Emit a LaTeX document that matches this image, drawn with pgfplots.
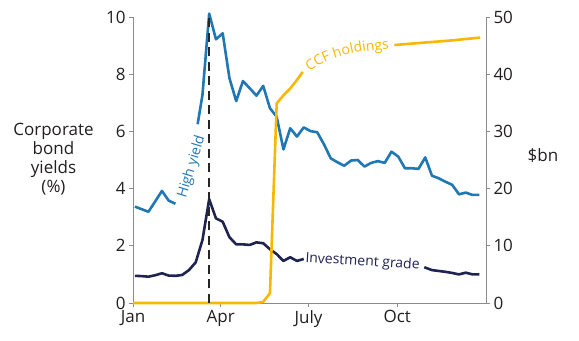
\documentclass[border=0pt]{standalone}
\usepackage{fontspec}
\setmainfont{Open Sans}
\usepackage{pgfplots}
\usetikzlibrary{decorations.text}
\pgfplotsset{compat=1.18}
\definecolor{hy}{HTML}{1F77B4}
\definecolor{ig}{HTML}{1F2352}
\definecolor{ccf}{HTML}{F8B700}
\definecolor{axgray}{HTML}{8C8C8C}
\definecolor{txt}{HTML}{231F20}
\newcommand\cf{\fontsize{17bp}{19bp}\selectfont}
\newcommand\lf{\fontsize{14bp}{16bp}\selectfont}
\begin{document}
\begin{tikzpicture}
\pgfplotsset{
 base/.style={width=353bp,height=286bp,scale only axis, xmin=0,xmax=366, clip=false,
   axis line style={axgray, line width=0.9bp}, tick style={axgray, line width=0.9bp},
   tick align=outside, major tick length=4bp,
   ticklabel style={font=\cf, text=txt}, /pgf/number format/assume math mode=true,
 }}
\begin{axis}[base, name=ax, ymin=0,ymax=10, axis y line*=left, axis x line*=bottom,
  xtick={0,91,182,274}, xticklabels={Jan,Apr,July,Oct}, ytick={0,2,...,10}]
\addplot[hy, line width=2.6bp, line join=round] coordinates {
(2,3.37)(9,3.28)(16,3.19)(23,3.55)(30,3.92)(37,3.58)(44,3.47)};
\addplot[hy, line width=2.6bp, line join=round] coordinates {
(67,6.25)(72,7.27)(79,10.12)(86,9.22)(93,9.43)(100,7.86)(107,7.06)(114,7.76)(121,7.51)
(128,7.25)(135,7.59)(142,6.81)(149,6.51)(156,5.37)(163,6.11)(170,5.82)(177,6.14)(184,6.01)
(191,5.97)(198,5.55)(205,5.06)(212,4.92)(219,4.80)(226,4.98)(233,5.00)(240,4.77)(247,4.90)
(254,4.96)(261,4.90)(268,5.29)(275,5.12)(282,4.71)(289,4.71)(296,4.69)(303,5.09)(310,4.45)
(317,4.36)(324,4.24)(331,4.13)(338,3.80)(345,3.86)(352,3.78)(359,3.78)};
\addplot[ig, line width=2.6bp, line join=round] coordinates {
(2,0.95)(9,0.94)(16,0.92)(23,0.97)(30,1.04)(37,0.96)(44,0.95)(51,0.98)(58,1.15)(65,1.42)
(72,2.20)(79,3.63)(86,2.96)(93,2.84)(100,2.30)(107,2.05)(114,2.05)(121,2.03)(128,2.12)
(135,2.09)(142,1.88)(149,1.71)(156,1.47)(163,1.60)(170,1.47)(177,1.54)};
\addplot[ig, line width=2.6bp, line join=round] coordinates {
(302,1.25)(310,1.15)(317,1.12)(324,1.09)(331,1.05)(338,1.00)(345,1.06)(352,1.00)(359,1.00)};
\node[text=hy, rotate=73, font=\lf] at (axis cs:61,4.76) {High yield};
\node[text=ig, rotate=-3.5, font=\lf] at (axis cs:238,1.43) {Investment grade};
\node[align=center, font=\cf, text=txt] at (rel axis cs:-0.2252,0.502) {Corporate\\bond\\yields\\(\%)};
\node[font=\cf, text=txt] at (rel axis cs:1.1615,0.517) {\$bn};
\end{axis}
\begin{axis}[base, ymin=0,ymax=50, axis y line*=right, axis x line=none, ytick={0,10,...,50}]
\addplot[ccf, line width=2.6bp, line join=round] coordinates {
(0,0)(128,0)(135,0.2)(142,1.7)(149,34.9)(156,36.3)(163,37.5)(170,39.0)(176,40.4)};
\addplot[ccf, line width=2.6bp, line join=round] coordinates {
(271,45.1)(300,45.5)(330,45.9)(360,46.4)};
\addplot[black!85, line width=2.4bp, dash pattern=on 9bp off 5.5bp] coordinates {(79,0)(79,50)};
\path[decorate, decoration={text along path, text={|\lf|CCF holdings}, text color=ccf, text align={align=center}}]
  (axis cs:176,39.6) to[out=38,in=184] (axis cs:274,44.5);
\end{axis}
\pgfresetboundingbox
\path (ax.south west) ++(-133bp,-38bp) rectangle ++(579bp,341bp);
\end{tikzpicture}
\end{document}
